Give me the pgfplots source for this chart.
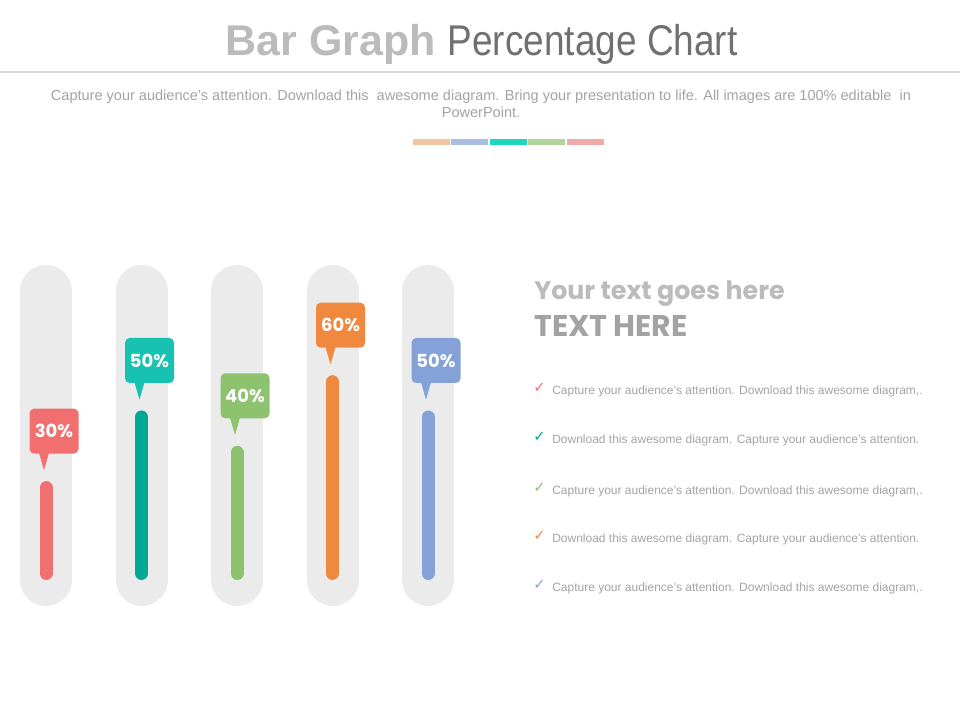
\documentclass[border=0pt]{standalone}
\usepackage{pgfplots}
\pgfplotsset{compat=1.18}
\usepackage{fontspec}
\setmainfont{Liberation Sans}
\newfontfamily\pop{Poppins}
\newfontfamily\sym{DejaVu Sans}
\newfontfamily\narrow[FakeStretch=0.86]{Liberation Sans}

\definecolor{trackgray}{HTML}{EBEBEB}
\definecolor{linegray}{HTML}{D9D9D9}
\definecolor{subgray}{HTML}{A3A3A3}
\definecolor{titlelight}{HTML}{BBBBBB}
\definecolor{titledark}{HTML}{707070}
\definecolor{cRed}{HTML}{F26F6F}
\definecolor{cTeal}{HTML}{00A896}
\definecolor{cTealL}{HTML}{17C2B0}
\definecolor{cGreen}{HTML}{8DC26F}
\definecolor{cOrange}{HTML}{F0883E}
\definecolor{cBlue}{HTML}{84A2D8}
\definecolor{sPeach}{HTML}{F2C4A0}
\definecolor{sBlue}{HTML}{A9BEE0}
\definecolor{sTurq}{HTML}{1DD8C0}
\definecolor{sGreen}{HTML}{B0D49C}
\definecolor{sPink}{HTML}{F2A9A9}

% one gauge: x position, value, bar colour, callout colour
% (the mark shift also moves the label, hence the smaller node shift)
\newcommand\gauge[4]{%
  \addplot[trackgray, line width=39pt, line cap=round] coordinates {(#1,3.82) (#1,85.7)};
  \addplot[#3, line width=9.75pt, line cap=round] coordinates {(#1,5.67) (#1,#2)};
  \addplot[only marks, color=#4, mark=triangle*, mark size=4.125pt,
    mark options={xshift=-1.5pt, yshift=22.1pt, yscale=2, rotate=180, draw=none, fill=#4},
    nodes near coords={\pgfmathprintnumber{\pgfplotspointmeta}\%},
    every node near coord/.append style={anchor=center, xshift=7.5pt, yshift=20.3pt,
      rectangle, rounded corners=3.5pt, fill=#4, text=white,
      minimum width=36.75pt, minimum height=33.75pt, inner sep=0pt,
      /pgf/number format/assume math mode=true,
      font=\pop\bfseries\fontsize{13.5pt}{14pt}\selectfont}]
    coordinates {(#1,#2)};
}

\begin{document}
\begin{tikzpicture}[x=0.75pt,y=0.75pt]
\path[use as bounding box] (0,0) rectangle (960,720);

% title
\node[anchor=base, inner sep=0pt] at (481.5,664)
  {\fontsize{32.25pt}{36pt}\selectfont\color{titlelight}\bfseries Bar Graph\
   \narrow\mdseries\color{titledark}Percentage Chart};
\draw[linegray, line width=1.1pt] (0,648) -- (960,648);

% subtitle
\node[anchor=base, inner sep=0pt, text=subgray] at (481,619)
  {\fontsize{10.9pt}{12pt}\selectfont Capture your audience's attention. Download this\ \ awesome diagram. Bring your presentation to life. All images are 100\% editable\ \ in};
\node[anchor=base, inner sep=0pt, text=subgray] at (481,602)
  {\fontsize{10.9pt}{12pt}\selectfont PowerPoint.};

% colour stripe
\fill[sPeach] (413,575) rectangle (450,581);
\fill[sBlue]  (451,575) rectangle (488,581);
\fill[sTurq]  (490,575) rectangle (527,581);
\fill[sGreen] (528,575) rectangle (565,581);
\fill[sPink]  (567,575) rectangle (604,581);

\begin{axis}[
  at={(-1.3125pt,94.875pt)}, anchor=south west,
  scale only axis, width=358.125pt, height=264.75pt,
  xmin=0.5, xmax=5.5, ymin=0, ymax=100,
  hide axis, clip=false]
\gauge{1}{30}{cRed}{cRed}
\gauge{2}{50}{cTeal}{cTealL}
\gauge{3}{40}{cGreen}{cGreen}
\gauge{4}{60}{cOrange}{cOrange}
\gauge{5}{50}{cBlue}{cBlue}
\end{axis}

% right-hand text
\node[anchor=base west, inner sep=0pt, text=titlelight] at (534,420)
  {\pop\bfseries\fontsize{19pt}{20pt}\selectfont Your text goes here};
\node[anchor=base west, inner sep=0pt, text=subgray] at (534,383)
  {\pop\bfseries\fontsize{22.5pt}{24pt}\selectfont TEXT HERE};

\foreach \yy/\cc/\tt in {
  325/cRed/{Capture your audience's attention. Download this awesome diagram,.},
  276/cTeal/{Download this awesome diagram. Capture your audience's attention.},
  225/cGreen/{Capture your audience's attention. Download this awesome diagram,.},
  177/cOrange/{Download this awesome diagram. Capture your audience's attention.},
  128/cBlue/{Capture your audience's attention. Download this awesome diagram,.}}{
  \node[anchor=base west, inner sep=0pt, text=\cc] at (533,\yy+2)
    {\sym\fontsize{11pt}{12pt}\selectfont ✓};
  \node[anchor=base west, inner sep=0pt, text=subgray] at (552,\yy)
    {\fontsize{9pt}{10pt}\selectfont \tt};
}
\end{tikzpicture}
\end{document}
